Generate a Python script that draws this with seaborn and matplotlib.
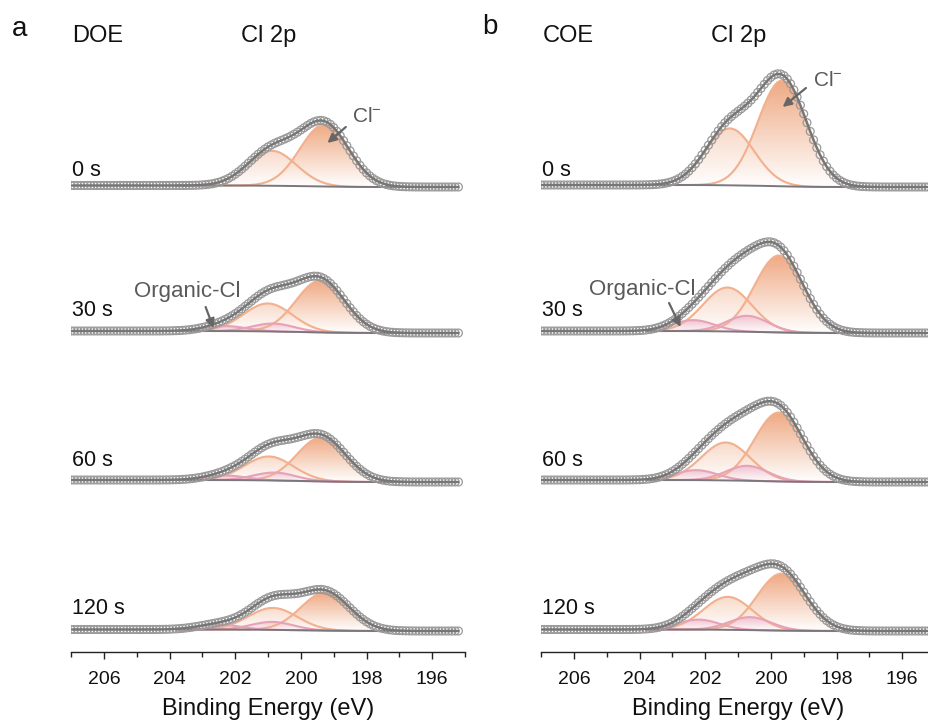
import numpy as np
import matplotlib
matplotlib.use("Agg")
import matplotlib.pyplot as plt
from matplotlib.colors import LinearSegmentedColormap
from matplotlib.transforms import blended_transform_factory
import seaborn as sns

sns.set_theme(style="ticks")
plt.rcParams["font.family"] = ["Liberation Sans", "DejaVu Sans"]
plt.rcParams["mathtext.default"] = "regular"

# ---- spectra parameters -------------------------------------------------
times = ["0 s", "30 s", "60 s", "120 s"]
offsets = [465, 319, 170, 21]          # vertical stacking of the spectra (a.u.)
label_dy = [17, 22, 21, 23]            # height of the time labels above each trace

panel_letters = ["a", "b"]
panel_names = ["DOE", "COE"]

# Cl- doublet (2p3/2, 2p1/2) and organic-Cl doublet: centre (eV) and height (a.u.)
doe_cl32_pos = [199.28, 199.40, 199.37, 199.25]
doe_cl32_amp = [62, 52, 44, 38]
doe_cl12_pos = [200.88, 201.00, 200.97, 200.85]
doe_cl12_amp = [35, 28, 24, 22]
doe_org32_pos = [200.85, 200.84, 200.80, 200.87]
doe_org32_amp = [0, 8, 8, 8]
doe_org12_pos = [202.45, 202.30, 202.30, 202.50]
doe_org12_amp = [0, 5, 4.5, 5]
doe_bg_step = [1.5, 2.0, 2.0, 1.5]

coe_cl32_pos = [199.65, 199.75, 199.75, 199.67]
coe_cl32_amp = [106, 77, 69, 57]
coe_cl12_pos = [201.25, 201.32, 201.37, 201.31]
coe_cl12_amp = [57, 44, 38, 33]
coe_org32_pos = [200.72, 200.72, 200.72, 200.63]
coe_org32_amp = [0, 16, 15, 13]
coe_org12_pos = [202.36, 202.36, 202.27, 202.20]
coe_org12_amp = [0, 11, 10, 10]
coe_bg_step = [2.0, 2.0, 2.0, 1.5]

cl_fwhm = 1.75
org_fwhm = 1.5
fit_hi, fit_lo = 203.8, 196.8          # fitting window (eV)

major_ticks = [206, 204, 202, 200, 198, 196]
minor_ticks = [207, 205, 203, 201, 199, 197, 195]

# ---- styling ------------------------------------------------------------
C_MAIN = "#EFA983"
C_MAIN_LINE = "#F2B08E"
C_SEC = "#F8DACA"
C_ORG = "#EDB3C6"
C_ORG_LINE = "#E6A2B8"
C_BG = "#7C777F"
C_DATA = "#999999"
C_FIT = "#767676"
C_NOTE = "#5A5A5A"

W, H = 929, 724
be = np.round(np.arange(207.0, 195.15, -0.1), 2)


def gauss(x, c, a, fwhm):
    s = fwhm / 2.3548
    return a * np.exp(-(x - c) ** 2 / (2 * s ** 2))


def gradient_fill(ax, x, base, top, color, zorder, alpha=1.0):
    poly = ax.fill_between(x, base, top, facecolor="none", edgecolor="none")
    cmap = LinearSegmentedColormap.from_list("g", ["#FFFFFF", color])
    grad = np.linspace(0, 1, 256).reshape(-1, 1)
    im = ax.imshow(grad, extent=[x.max(), x.min(), base.min(), top.max()],
                   origin="lower", aspect="auto", cmap=cmap, zorder=zorder,
                   alpha=alpha, interpolation="bilinear")
    im.set_clip_path(poly.get_paths()[0], transform=ax.transData)


def draw_panel(ax, p):
    for i, t in enumerate(times):
        off = offsets[i]
        comps = [
            (p["cl12_pos"][i], p["cl12_amp"][i], cl_fwhm, C_SEC, C_MAIN_LINE),
            (p["cl32_pos"][i], p["cl32_amp"][i], cl_fwhm, C_MAIN, C_MAIN_LINE),
            (p["org12_pos"][i], p["org12_amp"][i], org_fwhm, C_ORG, C_ORG_LINE),
            (p["org32_pos"][i], p["org32_amp"][i], org_fwhm, C_ORG, C_ORG_LINE),
        ]
        comps = [c for c in comps if c[1] > 0]
        peaks = sum(gauss(be, c, a, w) for c, a, w, _, _ in comps)
        # Shirley-type background: step proportional to integrated intensity
        cum = np.cumsum(peaks[::-1])[::-1]
        bg = off + p["bg_step"][i] * cum / cum.max()
        data = bg + peaks

        inside = (be <= fit_hi) & (be >= fit_lo)
        xf = be[inside]
        bgf = bg[inside]

        for c, a, w, fc, lc in comps:
            comp = gauss(xf, c, a, w)
            alpha = 0.75 if fc == C_ORG else 1.0
            gradient_fill(ax, xf, bgf, bgf + comp, fc, zorder=1, alpha=alpha)
        for c, a, w, fc, lc in comps:
            comp = gauss(xf, c, a, w)
            sns.lineplot(x=xf, y=bgf + comp, ax=ax, color=lc, lw=1.5,
                         sort=False, estimator=None, zorder=2)
        sns.lineplot(x=xf, y=bgf, ax=ax, color=C_BG, lw=1.4,
                     sort=False, estimator=None, zorder=3)
        sns.scatterplot(x=be, y=data, ax=ax, facecolors="none",
                        edgecolor=C_DATA, linewidth=0.9, s=32, zorder=4,
                        legend=False)
        sns.lineplot(x=be, y=data, ax=ax, color=C_FIT, lw=1.7,
                     sort=False, estimator=None, zorder=5)

        ax.text(0.003, off + label_dy[i], t, fontsize=15.5, color="#111111",
                ha="left", va="center",
                transform=blended_transform_factory(ax.transAxes, ax.transData))

    ax.set_xlim(207, 195.2)
    ax.set_ylim(0, 592)
    ax.set_yticks([])
    for s in ["left", "right", "top"]:
        ax.spines[s].set_visible(False)
    ax.spines["bottom"].set_linewidth(1.0)
    ax.spines["bottom"].set_color("#222222")
    ax.set_xticks(major_ticks)
    ax.set_xticks(minor_ticks, minor=True)
    ax.tick_params(axis="x", which="major", direction="out", length=5,
                   width=1.0, color="#222222", labelsize=14, pad=9,
                   labelcolor="#111111")
    ax.tick_params(axis="x", which="minor", direction="out", length=3.5,
                   width=1.0, color="#222222")
    ax.set_xlabel("Binding Energy (eV)", fontsize=17, labelpad=7,
                  color="#111111")
    ax.set_ylabel("")


fig = plt.figure(figsize=(W / 100, H / 100), dpi=100)
ax_a = fig.add_axes([71 / W, 72 / H, 394 / W, 592 / H])
ax_b = fig.add_axes([541 / W, 72 / H, 394 / W, 592 / H])

doe = dict(cl32_pos=doe_cl32_pos, cl32_amp=doe_cl32_amp,
           cl12_pos=doe_cl12_pos, cl12_amp=doe_cl12_amp,
           org32_pos=doe_org32_pos, org32_amp=doe_org32_amp,
           org12_pos=doe_org12_pos, org12_amp=doe_org12_amp,
           bg_step=doe_bg_step)
coe = dict(cl32_pos=coe_cl32_pos, cl32_amp=coe_cl32_amp,
           cl12_pos=coe_cl12_pos, cl12_amp=coe_cl12_amp,
           org32_pos=coe_org32_pos, org32_amp=coe_org32_amp,
           org12_pos=coe_org12_pos, org12_amp=coe_org12_amp,
           bg_step=coe_bg_step)

draw_panel(ax_a, doe)
draw_panel(ax_b, coe)

arrow = dict(arrowstyle="-|>", color="#666666", lw=1.6, mutation_scale=13,
             shrinkA=0, shrinkB=0)

# Cl- labels
ax_a.annotate("", xy=(199.19, offsets[0] + 44), xytext=(198.63, offsets[0] + 60),
              arrowprops=arrow, zorder=6)
ax_a.text(198.45, offsets[0] + 70, "Cl$^{-}$", fontsize=15, color=C_NOTE,
          ha="left", va="center")
ax_b.annotate("", xy=(199.64, offsets[0] + 80), xytext=(198.93, offsets[0] + 99),
              arrowprops=arrow, zorder=6)
ax_b.text(198.72, offsets[0] + 106, "Cl$^{-}$", fontsize=15, color=C_NOTE,
          ha="left", va="center")

# Organic-Cl labels
ax_a.annotate("", xy=(202.66, offsets[1] + 5), xytext=(202.90, offsets[1] + 26),
              arrowprops=arrow, zorder=6)
ax_a.text(203.45, offsets[1] + 41, "Organic-Cl", fontsize=16, color=C_NOTE,
          ha="center", va="center")
ax_b.annotate("", xy=(202.75, offsets[1] + 6), xytext=(203.10, offsets[1] + 30),
              arrowprops=arrow, zorder=6)
ax_b.text(203.93, offsets[1] + 44, "Organic-Cl", fontsize=16, color=C_NOTE,
          ha="center", va="center")

# panel headers
def fpos(x, y):
    return x / W, 1 - y / H

fig.text(*fpos(12, 29), panel_letters[0], fontsize=20, ha="left", va="center", color="#111111")
fig.text(*fpos(72, 36), panel_names[0], fontsize=17, ha="left", va="center", color="#111111")
fig.text(*fpos(241, 36), "Cl 2p", fontsize=17, ha="left", va="center", color="#111111")
fig.text(*fpos(482, 27), panel_letters[1], fontsize=20, ha="left", va="center", color="#111111")
fig.text(*fpos(543, 36), panel_names[1], fontsize=17, ha="left", va="center", color="#111111")
fig.text(*fpos(711, 36), "Cl 2p", fontsize=17, ha="left", va="center", color="#111111")

fig.savefig("out.png", dpi=100)
